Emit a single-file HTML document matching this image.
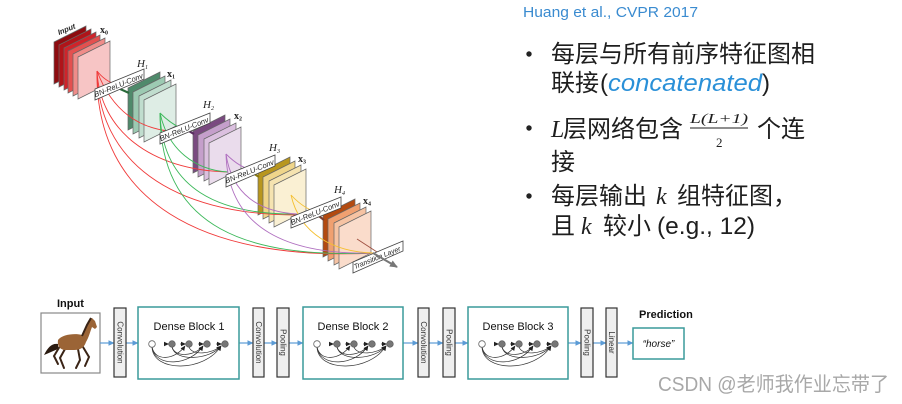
<!DOCTYPE html>
<html><head><meta charset="utf-8"><style>
html,body{margin:0;padding:0;background:#fff;}
svg{display:block;}
</style></head><body>
<svg width="902" height="404" viewBox="0 0 902 404" xmlns="http://www.w3.org/2000/svg">
<defs>
<marker id="ba" markerWidth="6" markerHeight="6" refX="5.5" refY="3" orient="auto" markerUnits="userSpaceOnUse"><path d="M0,0.3 L6,3 L0,5.7z" fill="#5b9bd5"/></marker>
<marker id="da" markerWidth="5" markerHeight="5" refX="4.5" refY="2.5" orient="auto" markerUnits="userSpaceOnUse"><path d="M0,0.3 L5,2.5 L0,4.7z" fill="#222"/></marker>
<marker id="ga" markerWidth="8" markerHeight="8" refX="7" refY="4" orient="auto" markerUnits="userSpaceOnUse"><path d="M0,0.5 L8,4 L0,7.5z" fill="#777"/></marker>
</defs>
<rect width="902" height="404" fill="#fff"/>

<!-- ===== Top-left DenseNet diagram ===== -->
<g stroke="#666" stroke-width="0.7">
<polygon points="54,42 86,26 86,68 54,84" fill="#8e0c10"/>
<polygon points="59,45 91,29 91,71 59,87" fill="#b01419"/>
<polygon points="64,48 96,32 96,74 64,90" fill="#d0232a"/>
<polygon points="68,51 100,35 100,77 68,93" fill="#e4504f"/>
<polygon points="73,54 105,38 105,80 73,96" fill="#ef8c89"/>
<polygon points="78,57 110,41 110,83 78,99" fill="#f7c5c5"/>
<polygon points="128,88 160,72 160,114 128,130" fill="#4f8a6b"/>
<polygon points="133,92 165,76 165,118 133,134" fill="#9ccab2"/>
<polygon points="139,96 171,80 171,122 139,138" fill="#c0ddce"/>
<polygon points="144,100 176,84 176,126 144,142" fill="#deede5"/>
<polygon points="193,131 225,115 225,157 193,173" fill="#7a4a80"/>
<polygon points="198,135 230,119 230,161 198,177" fill="#c59fcb"/>
<polygon points="204,139 236,123 236,165 204,181" fill="#dbc0df"/>
<polygon points="209,143 241,127 241,169 209,185" fill="#eadcec"/>
<polygon points="258,173 290,157 290,199 258,215" fill="#b8961e"/>
<polygon points="263,177 295,161 295,203 263,219" fill="#efd58a"/>
<polygon points="269,181 301,165 301,207 269,223" fill="#f5e3b0"/>
<polygon points="274,185 306,169 306,211 274,227" fill="#faf0d3"/>
<polygon points="323,215 355,199 355,241 323,257" fill="#b34a10"/>
<polygon points="328,219 360,203 360,245 328,261" fill="#f0a070"/>
<polygon points="334,223 366,207 366,249 334,265" fill="#f6c3a3"/>
<polygon points="339,227 371,211 371,253 339,269" fill="#fadccb"/>
</g>

<g fill="none" stroke-width="0.9">
<g stroke="#f03a3a">
<path d="M97,71 Q105,81 115,84"/>
<path d="M97,71 C108,100 128,126 168,131"/>
<path d="M97,71 C100,130 150,170 228,172"/>
<path d="M97,71 C98,160 170,215 297,215"/>
<path d="M97,71 C95,200 200,262 375,253"/>
</g>
<g stroke="#3cb85a">
<path d="M160,113 Q175,128 190,131"/>
<path d="M160,113 C168,150 195,170 228,172"/>
<path d="M160,113 C162,190 220,215 297,214"/>
<path d="M160,113 C160,230 250,258 373,253"/>
</g>
<g stroke="#b070c0">
<path d="M226,154 Q240,168 253,170"/>
<path d="M226,154 C232,195 260,212 297,214"/>
<path d="M226,154 C228,230 290,255 373,253"/>
</g>
<g stroke="#f5c030">
<path d="M291,195 Q305,210 320,213"/>
<path d="M291,195 C300,235 335,252 373,253"/>
</g>
<path d="M357,239 L377,252" stroke="#a05040"/>
</g>

<g stroke-width="2.2">
<line x1="118" y1="88" x2="129" y2="93" stroke="#2a6a3a"/>
<line x1="184" y1="128" x2="194" y2="134" stroke="#5a2e60"/>
<line x1="250" y1="171" x2="259" y2="177" stroke="#8a7a10"/>
<line x1="315" y1="213" x2="324" y2="220" stroke="#7a4030"/>
</g>

<g fill="#fff" stroke="#444" stroke-width="0.8">
<polygon points="95,89 144,69 144,79 95,100"/>
<polygon points="160,133 210,113 210,123 160,144"/>
<polygon points="226,175 275,155 275,166 226,187"/>
<polygon points="291,217 341,197 341,208 291,228"/>
<polygon points="353,262 403,241 403,251 353,273"/>
</g>
<g font-family="Liberation Sans, sans-serif" font-style="italic" font-size="7.5" fill="#222" text-anchor="middle">
<text transform="translate(119.5,87.5) rotate(-22)">BN-ReLU-Conv</text>
<text transform="translate(185,131.5) rotate(-22)">BN-ReLU-Conv</text>
<text transform="translate(250.5,173.8) rotate(-22)">BN-ReLU-Conv</text>
<text transform="translate(316,215.5) rotate(-22)">BN-ReLU-Conv</text>
<text font-size="7" transform="translate(378,259.8) rotate(-22)">Transition Layer</text>
</g>
<line x1="373" y1="253" x2="397" y2="267" stroke="#777" stroke-width="2" marker-end="url(#ga)"/>

<text transform="translate(59,35) rotate(-22)" font-family="Liberation Sans, sans-serif" font-style="italic" font-weight="bold" font-size="7.5" fill="#222">Input</text>
<g font-family="Liberation Serif, serif" font-weight="bold" font-size="10" fill="#222">
<text x="100" y="33">x<tspan font-size="6" dy="1.5">0</tspan></text>
<text x="167" y="77">x<tspan font-size="6" dy="1.5">1</tspan></text>
<text x="234" y="119">x<tspan font-size="6" dy="1.5">2</tspan></text>
<text x="298" y="162">x<tspan font-size="6" dy="1.5">3</tspan></text>
<text x="363" y="204">x<tspan font-size="6" dy="1.5">4</tspan></text>
</g>
<g font-family="Liberation Serif, serif" font-style="italic" font-size="11" fill="#222">
<text x="137" y="67">H<tspan font-size="6" dy="2">1</tspan></text>
<text x="203" y="108">H<tspan font-size="6" dy="2">2</tspan></text>
<text x="269" y="151">H<tspan font-size="6" dy="2">3</tspan></text>
<text x="334" y="193">H<tspan font-size="6" dy="2">4</tspan></text>
</g>

<!-- ===== Right text ===== -->
<text x="523" y="17" font-family="Liberation Sans, sans-serif" font-size="15" fill="#3a8bd0" textLength="175" lengthAdjust="spacingAndGlyphs">Huang et al., CVPR 2017</text>
<g fill="#222">
<circle cx="529" cy="54" r="2.7"/>
<circle cx="529" cy="128" r="2.7"/>
<circle cx="529" cy="196" r="2.7"/>
</g>
<g font-family="Liberation Sans, 'Noto Sans CJK SC', sans-serif" font-size="24" fill="#1e1e1e">
<text x="551" y="62">每层与所有前序特征图相</text>
<text x="551" y="91">联接</text>
<text x="600" y="91">(</text>
<text x="608" y="91" font-style="italic" fill="#2a90d8" textLength="154" lengthAdjust="spacingAndGlyphs">concatenated</text>
<text x="762" y="91">)</text>
<text x="551" y="137" font-family="Liberation Serif, serif" font-style="italic">L</text>
<text x="563" y="137">层网络包含</text>
<text x="690" y="123" font-family="Liberation Serif, serif" font-style="italic" font-size="14" textLength="58" lengthAdjust="spacingAndGlyphs">L(L+1)</text>
<line x1="690" y1="128" x2="748" y2="128" stroke="#1e1e1e" stroke-width="1"/>
<text x="716" y="147" font-family="Liberation Serif, serif" font-size="13">2</text>
<text x="757" y="137">个连</text>
<text x="551" y="170">接</text>
<text x="551" y="204">每层输出</text>
<text x="656" y="204" font-family="Liberation Serif, serif" font-style="italic">k</text>
<text x="677" y="204">组特征图，</text>
<text x="551" y="234">且</text>
<text x="581" y="234" font-family="Liberation Serif, serif" font-style="italic">k</text>
<text x="603" y="234">较小</text>
<text x="657" y="234" textLength="98" lengthAdjust="spacingAndGlyphs">(e.g., 12)</text>
</g>

<!-- ===== Bottom pipeline ===== -->
<text x="57" y="307" font-family="Liberation Sans, sans-serif" font-weight="bold" font-size="11" fill="#111">Input</text>
<rect x="41" y="313" width="59" height="60" fill="#fff" stroke="#888" stroke-width="1.2"/>
<g>
<path d="M58,344 C52,343 48,347 44,355 C49,353 53,351 58,349 Z" fill="#2a1a10"/>
<g stroke="#3a2416" stroke-width="2" fill="none" stroke-linecap="round">
<path d="M83,347 L89,357 L85,366"/>
<path d="M78,349 L80,360 L76,368"/>
<path d="M65,349 L60,358 L64,368"/>
<path d="M60,346 L54,356 L58,364"/>
</g>
<path d="M58,340 C62,334 76,333 82,335 L86,327 C87,322 89,319 92,318 L95,321 L97,327 L95,329 L92,327 C90,332 89,337 86,342 C84,348 80,350 74,350 L64,350 C60,349 57,346 58,340 Z" fill="#9b6436"/>
<path d="M82,336 L87,325 L91,318" stroke="#3a2416" stroke-width="2" fill="none"/>
</g>

<g stroke="#5b9bd5" stroke-width="1.2" marker-end="url(#ba)">
<line x1="100" y1="343" x2="114" y2="343"/>
<line x1="126" y1="343" x2="138" y2="343"/>
<line x1="239" y1="343" x2="253" y2="343"/>
<line x1="264" y1="343" x2="277" y2="343"/>
<line x1="289" y1="343" x2="303" y2="343"/>
<line x1="403" y1="343" x2="418" y2="343"/>
<line x1="429" y1="343" x2="443" y2="343"/>
<line x1="455" y1="343" x2="468" y2="343"/>
<line x1="568" y1="343" x2="581" y2="343"/>
<line x1="593" y1="343" x2="606" y2="343"/>
<line x1="618" y1="343" x2="633" y2="343"/>
</g>

<g fill="#efefef" stroke="#333" stroke-width="1.2">
<rect x="114" y="308" width="12" height="69"/>
<rect x="253" y="308" width="11" height="69"/>
<rect x="277" y="308" width="12" height="69"/>
<rect x="418" y="308" width="11" height="69"/>
<rect x="443" y="308" width="12" height="69"/>
<rect x="581" y="308" width="12" height="69"/>
<rect x="606" y="308" width="11" height="69"/>
</g>
<g font-family="Liberation Sans, sans-serif" font-size="8" fill="#333" text-anchor="middle">
<text transform="translate(117.5,342.5) rotate(90)">Convolution</text>
<text transform="translate(256,342.5) rotate(90)">Convolution</text>
<text transform="translate(280.5,342.5) rotate(90)">Pooling</text>
<text transform="translate(421,342.5) rotate(90)">Convolution</text>
<text transform="translate(446.5,342.5) rotate(90)">Pooling</text>
<text transform="translate(584.5,342.5) rotate(90)">Pooling</text>
<text transform="translate(609,342.5) rotate(90)">Linear</text>
</g>

<g fill="#fff" stroke="#3a9a9a" stroke-width="1.5">
<rect x="138" y="307" width="101" height="72"/>
<rect x="303" y="307" width="100" height="72"/>
<rect x="468" y="307" width="100" height="72"/>
</g>
<g font-family="Liberation Sans, sans-serif" font-size="11" fill="#111" text-anchor="middle">
<text x="189" y="330">Dense Block 1</text>
<text x="353" y="330">Dense Block 2</text>
<text x="518" y="330">Dense Block 3</text>
</g>

<g id="db1">
<g fill="none" stroke="#333" stroke-width="0.7" marker-end="url(#da)">
<path d="M152,347 C155,362 175,360 185,346"/>
<path d="M152,347 C155,368 190,366 203,346"/>
<path d="M152,347 C153,373 205,372 221,346"/>
<path d="M172,347 C175,358 195,356 203,346"/>
<path d="M172,347 C175,362 210,360 221,346"/>
<path d="M189,347 C192,356 212,354 221,346"/>
<line x1="164" y1="344" x2="168.5" y2="344"/>
<line x1="180" y1="344" x2="185.5" y2="344"/>
<line x1="198" y1="344" x2="203.5" y2="344"/>
<line x1="216" y1="344" x2="221.5" y2="344"/>
</g>
<circle cx="152" cy="344" r="3.3" fill="#fff" stroke="#666" stroke-width="0.8"/>
<g fill="#777" stroke="#555" stroke-width="0.6">
<circle cx="172" cy="344" r="3.3"/>
<circle cx="189" cy="344" r="3.3"/>
<circle cx="207" cy="344" r="3.3"/>
<circle cx="225" cy="344" r="3.3"/>
</g>
</g>
<use href="#db1" transform="translate(165,0)"/>
<use href="#db1" transform="translate(330,0)"/>

<text x="639" y="318" font-family="Liberation Sans, sans-serif" font-weight="bold" font-size="11" fill="#111">Prediction</text>
<rect x="633" y="328" width="51" height="31" fill="#fff" stroke="#3a9a9a" stroke-width="1.5"/>
<text x="658.5" y="347" font-family="Liberation Sans, sans-serif" font-style="italic" font-size="10" fill="#111" text-anchor="middle">“horse”</text>

<text x="658" y="391" font-family="Liberation Sans, 'Noto Sans CJK SC', sans-serif" font-size="20" fill="#a8a8a8" textLength="231" lengthAdjust="spacingAndGlyphs">CSDN @老师我作业忘带了</text>
</svg>
</body></html>
